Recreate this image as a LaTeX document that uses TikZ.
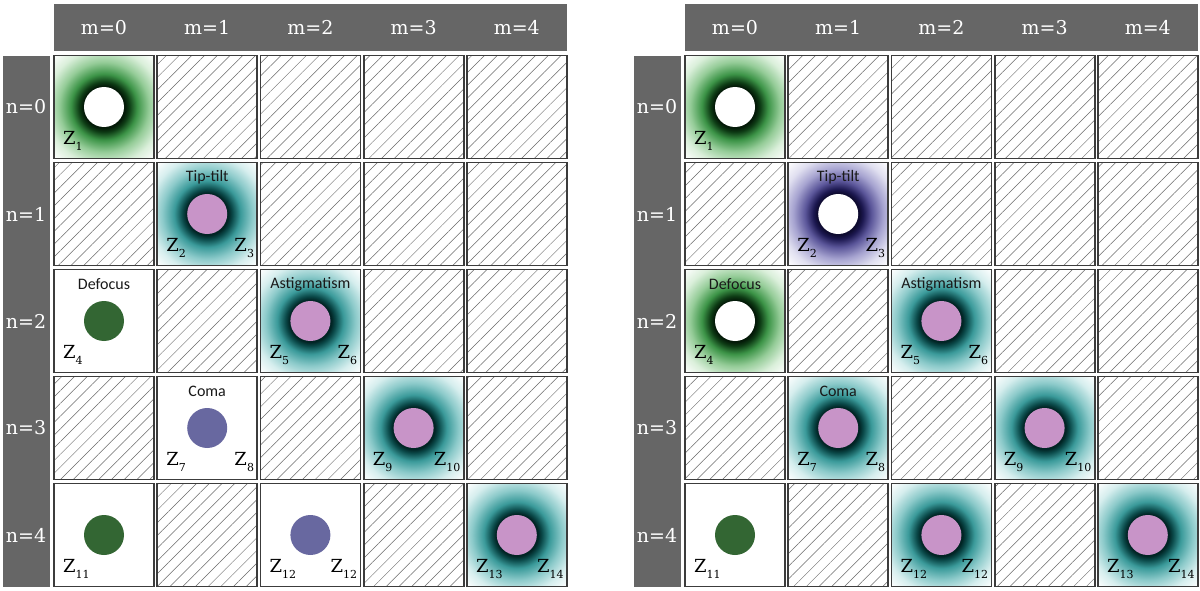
\documentclass[tikz,border=0pt]{standalone}
\usepackage{fontspec}
\setmainfont{DejaVu Serif}
\newfontfamily\labfont{Carlito}
\usetikzlibrary{patterns.meta}
\definecolor{barc}{HTML}{666666}
\definecolor{borderc}{HTML}{3C3C3C}
\definecolor{hatchc}{HTML}{6A6A6A}
\definecolor{gK}{HTML}{041A08}
\definecolor{gD}{HTML}{0D3A14}
\definecolor{gM}{HTML}{3C9447}
\definecolor{gL}{HTML}{95CC98}
\definecolor{gW}{HTML}{DAEFDA}
\definecolor{tK}{HTML}{012424}
\definecolor{tD}{HTML}{0A4848}
\definecolor{tM}{HTML}{3A9A9A}
\definecolor{tL}{HTML}{8CCACA}
\definecolor{tW}{HTML}{D6EEEE}
\definecolor{pK}{HTML}{0E0B30}
\definecolor{pD}{HTML}{1C1850}
\definecolor{pM}{HTML}{5A5599}
\definecolor{pL}{HTML}{A6A3D0}
\definecolor{pW}{HTML}{E0DFF0}
\definecolor{pinkc}{HTML}{C894C8}
\definecolor{sgreen}{HTML}{336633}
\definecolor{spurple}{HTML}{6868A0}
\pgfdeclareradialshading{glowG}{\pgfpoint{0bp}{0bp}}{color(0bp)=(gK); color(10.1bp)=(gK); color(12bp)=(gD); color(15.9bp)=(gM); color(21.6bp)=(gL); color(27.9bp)=(gW); color(34.6bp)=(white); color(50bp)=(white)}
\pgfdeclareradialshading{glowT}{\pgfpoint{0bp}{0bp}}{color(0bp)=(tK); color(10.1bp)=(tK); color(12bp)=(tD); color(15.9bp)=(tM); color(21.6bp)=(tL); color(27.9bp)=(tW); color(34.6bp)=(white); color(50bp)=(white)}
\pgfdeclareradialshading{glowP}{\pgfpoint{0bp}{0bp}}{color(0bp)=(pK); color(10.1bp)=(pK); color(12bp)=(pD); color(15.9bp)=(pM); color(21.6bp)=(pL); color(27.9bp)=(pW); color(34.6bp)=(white); color(50bp)=(white)}
\newcommand\zz[1]{Z\raisebox{-6pt}{\fontsize{11}{11}\selectfont #1}}
\newcommand\setcell[3]{%
  \pgfmathsetmacro\cL{#1+54+#2*103.2}%
  \pgfmathsetmacro\cT{55.5+#3*107}%
  \pgfmathsetmacro\cR{\cL+100}%
  \pgfmathsetmacro\cB{\cT+103}%
  \pgfmathsetmacro\cX{\cL+50}%
  \pgfmathsetmacro\cY{\cT+51.5}}
\newcommand\hcell[3]{\setcell{#1}{#2}{#3}%
  \path[hatch] (\cL,\cT) rectangle (\cR,\cB);
  \draw[cellb] (\cL,\cT) rectangle (\cR,\cB);}
\newcommand\cellext[6]{%
  \ifx\relax#4\relax\else\node[toplab] (top-#1-#2-#3) at (\cX,\cT+15) {#4};\fi
  \ifx\relax#5\relax\else\node[zlab,anchor=base west] (zl-#1-#2-#3) at (\cL+9,\cB-14) {\zz{#5}};\fi
  \ifx\relax#6\relax\else\node[zlab,anchor=base east] (zr-#1-#2-#3) at (\cR-3,\cB-14) {\zz{#6}};\fi
  \draw[cellb] (\cL,\cT) rectangle (\cR,\cB);}
\newcommand\gcell[8]{\setcell{#1}{#2}{#3}%
  \begin{scope}\clip (\cL,\cT) rectangle (\cR,\cB);
  \shade[shading=#4] (\cX-52,\cY-52) rectangle (\cX+52,\cY+52);\end{scope}
  \fill[#5] (\cX,\cY) circle[radius=20pt];
  \cellext{#1}{#2}{#3}{#6}{#7}{#8}}
\newcommand\scell[7]{\setcell{#1}{#2}{#3}%
  \fill[#4] (\cX,\cY) circle[radius=20pt];
  \cellext{#1}{#2}{#3}{#5}{#6}{#7}}
\begin{document}
\begin{tikzpicture}[x=1pt,y=-1pt,
  hatch/.style={pattern={Lines[angle=45,distance=9pt,line width=0.5pt]},pattern color=hatchc},
  cellb/.style={draw=borderc,line width=1.8pt},
  barbox/.style={fill=barc,draw=none},
  head/.style={text=white,font=\fontsize{19}{22}\selectfont,inner sep=0pt},
  toplab/.style={font=\labfont\fontsize{16}{18}\selectfont,inner sep=0pt,text=black!90},
  zlab/.style={font=\fontsize{18}{20}\selectfont,inner sep=0pt,text=black}]
\useasboundingbox (0,0) rectangle (1200,591);
\fill[white] (0,0) rectangle (1200,591);
\foreach \ox in {0,631}{
  \fill[barbox] (\ox+54,4) rectangle (\ox+566.8,51);
  \fill[barbox] (\ox+2.5,56) rectangle (\ox+50,586.5);
  \foreach \k in {0,...,4}{
    \node[head] (m-\ox-\k) at (\ox+104+\k*103.2,27.5) {m=\k};
    \node[head] (n-\ox-\k) at (\ox+26,107+\k*107) {n=\k};
  }
}
\foreach \ox in {0,631}{
  \foreach \c/\r in {1/0,2/0,3/0,4/0, 0/1,2/1,3/1,4/1, 1/2,3/2,4/2, 0/3,2/3,4/3, 1/4,3/4}{
    \hcell{\ox}{\c}{\r}
  }
}
% left panel
\gcell{0}{0}{0}{glowG}{white}{}{1}{}
\gcell{0}{1}{1}{glowT}{pinkc}{Tip-tilt}{2}{3}
\scell{0}{0}{2}{sgreen}{Defocus}{4}{}
\gcell{0}{2}{2}{glowT}{pinkc}{Astigmatism}{5}{6}
\scell{0}{1}{3}{spurple}{Coma}{7}{8}
\gcell{0}{3}{3}{glowT}{pinkc}{}{9}{10}
\scell{0}{0}{4}{sgreen}{}{11}{}
\scell{0}{2}{4}{spurple}{}{12}{12}
\gcell{0}{4}{4}{glowT}{pinkc}{}{13}{14}
% right panel
\gcell{631}{0}{0}{glowG}{white}{}{1}{}
\gcell{631}{1}{1}{glowP}{white}{Tip-tilt}{2}{3}
\gcell{631}{0}{2}{glowG}{white}{Defocus}{4}{}
\gcell{631}{2}{2}{glowT}{pinkc}{Astigmatism}{5}{6}
\gcell{631}{1}{3}{glowT}{pinkc}{Coma}{7}{8}
\gcell{631}{3}{3}{glowT}{pinkc}{}{9}{10}
\scell{631}{0}{4}{sgreen}{}{11}{}
\gcell{631}{2}{4}{glowT}{pinkc}{}{12}{12}
\gcell{631}{4}{4}{glowT}{pinkc}{}{13}{14}
\end{tikzpicture}
\end{document}
